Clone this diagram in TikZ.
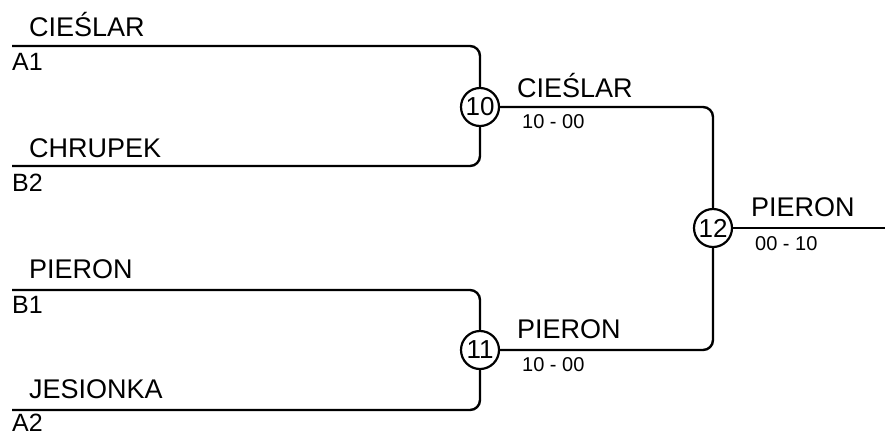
\documentclass[tikz,border=0pt]{standalone}
\usepackage{fontspec}
\setmainfont{Liberation Sans}

\tikzset{
	mecz/.style={circle,draw,line width=2.2pt,minimum size=38pt,inner sep=0pt,fill=white,font=\fontsize{26}{29}\selectfont},
	gracz/.style={anchor=base west,inner sep=0pt,font=\fontsize{27}{30}\selectfont},
	wynik/.style={anchor=base west,inner sep=0pt,font=\fontsize{20}{23}\selectfont},
	los/.style={anchor=base west,inner sep=0pt,font=\fontsize{25}{28}\selectfont},
	linia/.style={line width=2.4pt,rounded corners=10pt}
}

\begin{document}
\begin{tikzpicture}[x=1pt,y=-1pt]
	\useasboundingbox (0,0) rectangle (885,432);
	% starting slots
	\coordinate (a1) at (12,46);
	\coordinate (b2) at (12,166);
	\coordinate (b1) at (12,290);
	\coordinate (a2) at (12,410);
	\coordinate (koniec) at (885,228);
	% matches
	\node[mecz] (m10) at (480,107) {10};
	\node[mecz] (m11) at (480,350) {11};
	\node[mecz] (m12) at (713,228) {12};
	% bracket lines
	\draw[linia] (a1) -| (m10);
	\draw[linia] (b2) -| (m10);
	\draw[linia] (b1) -| (m11);
	\draw[linia] (a2) -| (m11);
	\draw[linia] (m10) -| (m12);
	\draw[linia] (m11) -| (m12);
	\draw[linia] (m12) -- (koniec);
	% names
	\node[gracz] (n1) at (29,36) {CIEŚLAR};
	\node[gracz] (n2) at (29,157) {CHRUPEK};
	\node[gracz] (n3) at (29,278) {PIERON};
	\node[gracz] (n4) at (29,398) {JESIONKA};
	\node[los] (s1) at (12,70) {A1};
	\node[los] (s2) at (12,191) {B2};
	\node[los] (s3) at (12,313) {B1};
	\node[los] (s4) at (12,431) {A2};
	% winners and scores
	\node[gracz] (w10) at (517,97) {CIEŚLAR};
	\node[wynik] (r10) at (522,128) {10 - 00};
	\node[gracz] (w11) at (517,338) {PIERON};
	\node[wynik] (r11) at (522,371) {10 - 00};
	\node[gracz] (w12) at (751,216) {PIERON};
	\node[wynik] (r12) at (755,250) {00 - 10};
\end{tikzpicture}
\end{document}
